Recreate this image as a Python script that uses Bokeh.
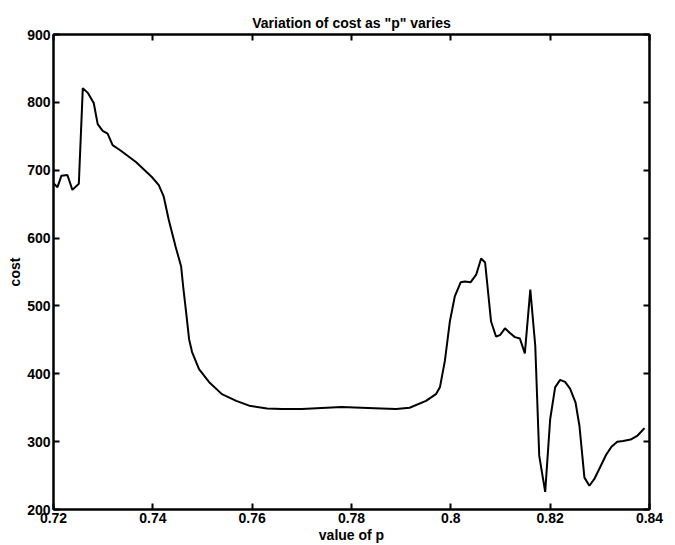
from bokeh.plotting import figure
from bokeh.models import LinearAxis, FixedTicker, Range1d
from bokeh.embed import file_html
from bokeh.resources import INLINE

# ---- data ----
p_values = [0.7200, 0.7208, 0.7216, 0.7228, 0.7238, 0.7251, 0.7259, 0.7269, 0.7281, 0.7289,
            0.7299, 0.7309, 0.7319, 0.7335, 0.7366, 0.7398, 0.7412, 0.7422, 0.7432, 0.7446,
            0.7457, 0.7461, 0.7467, 0.7473, 0.7479, 0.7493, 0.7513, 0.7539, 0.7568, 0.7594,
            0.7630, 0.7660, 0.7700, 0.7750, 0.7780, 0.7820, 0.7860, 0.7890, 0.7917, 0.7950,
            0.7970, 0.7978, 0.7988, 0.7998, 0.8008, 0.8020, 0.8028, 0.8040, 0.8051, 0.8061,
            0.8069, 0.8081, 0.8091, 0.8099, 0.8109, 0.8119, 0.8129, 0.8139, 0.8149, 0.8160,
            0.8170, 0.8178, 0.8190, 0.8200, 0.8210, 0.8220, 0.8230, 0.8240, 0.8251, 0.8259,
            0.8269, 0.8279, 0.8289, 0.8301, 0.8313, 0.8323, 0.8335, 0.8347, 0.8362, 0.8376,
            0.8390]
cost_values = [681, 675, 692, 693, 671, 680, 821, 814, 799, 768,
               758, 754, 737, 729, 712, 690, 678, 661, 627, 587,
               558, 529, 491, 451, 432, 407, 388, 370, 360, 353,
               349, 348, 348, 350, 351, 350, 349, 348, 350, 360,
               370, 380, 419, 477, 514, 535, 536, 535, 546, 570,
               564, 477, 455, 457, 467, 460, 454, 452, 430, 524,
               441, 279, 226, 333, 380, 391, 388, 378, 358, 323,
               247, 235, 245, 263, 281, 292, 300, 301, 303, 309,
               320]

x_ticks = [0.72, 0.74, 0.76, 0.78, 0.80, 0.82, 0.84]
x_tick_labels = ["0.72", "0.74", "0.76", "0.78", "0.8", "0.82", "0.84"]
y_ticks = [200, 300, 400, 500, 600, 700, 800, 900]
y_tick_labels = ["200", "300", "400", "500", "600", "700", "800", "900"]

title_text = 'Variation of cost as "p" varies'
x_label = "value of p"
y_label = "cost"

FONT = "Liberation Sans"

p = figure(width=675, height=545, output_backend="svg", toolbar_location=None,
           x_range=Range1d(0.72, 0.84), y_range=Range1d(200, 900),
           min_border_left=53, min_border_right=26, min_border_top=34, min_border_bottom=34,
           x_axis_location=None, y_axis_location=None)

p.title.text = title_text
p.title.align = "center"
p.title.text_font = FONT
p.title.text_font_style = "bold"
p.title.text_font_size = "14px"
p.title.text_color = "black"
p.title.offset = 0
p.title.standoff = 8

p.xgrid.visible = False
p.ygrid.visible = False
p.background_fill_color = "white"
p.border_fill_color = "white"
p.outline_line_color = "black"
p.outline_line_width = 2


def style_axis(ax, ticks, labels, show_labels, axis_label=None):
    ax.ticker = FixedTicker(ticks=ticks)
    if show_labels:
        ax.major_label_overrides = {t: l for t, l in zip(ticks, labels)}
    else:
        ax.major_label_overrides = {t: "" for t in ticks}
    ax.major_tick_in = 6
    ax.major_tick_out = 0
    ax.minor_tick_in = 0
    ax.minor_tick_out = 0
    ax.axis_line_color = "black"
    ax.axis_line_width = 2
    ax.major_tick_line_color = "black"
    ax.major_tick_line_width = 2
    ax.major_label_text_font = FONT
    ax.major_label_text_font_style = "bold"
    ax.major_label_text_color = "black"
    ax.major_label_text_font_size = "14px"
    ax.major_label_standoff = 3 if show_labels else 0
    if axis_label:
        ax.axis_label = axis_label
        ax.axis_label_text_font = FONT
        ax.axis_label_text_font_style = "bold"
        ax.axis_label_text_font_size = "14px"
        ax.axis_label_text_color = "black"
        ax.axis_label_standoff = 1


xb = LinearAxis()
style_axis(xb, x_ticks, x_tick_labels, True, x_label)
p.add_layout(xb, "below")
yl = LinearAxis()
style_axis(yl, y_ticks, y_tick_labels, True, y_label)
p.add_layout(yl, "left")
xt = LinearAxis()
style_axis(xt, x_ticks, x_tick_labels, False)
p.add_layout(xt, "above")
yr = LinearAxis()
style_axis(yr, y_ticks, y_tick_labels, False)
p.add_layout(yr, "right")

p.line(p_values, cost_values, line_color="black", line_width=2)

open("out.html", "w").write(file_html(p, INLINE))
